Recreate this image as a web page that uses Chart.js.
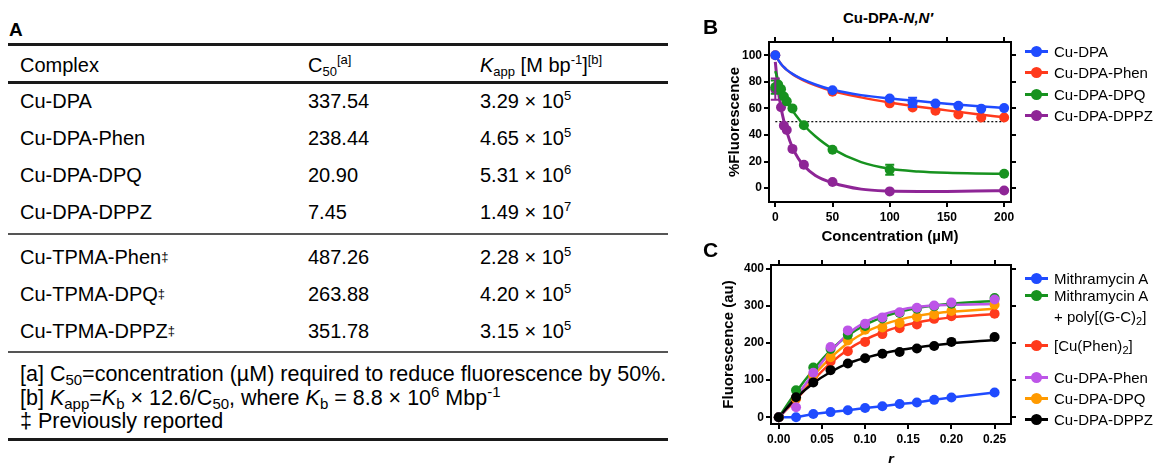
<!DOCTYPE html>
<html>
<head>
<meta charset="utf-8">
<script src="https://cdn.jsdelivr.net/npm/chart.js@4.4.1/dist/chart.umd.min.js"></script>
<style>
    body { margin: 0; width: 1155px; height: 463px; overflow: hidden; background: #fff; position: relative;
           font-family: "Liberation Sans", Arial, sans-serif; color: #000; }
    .abs { position: absolute; white-space: nowrap; }
    .panel { position: absolute; font-weight: bold; font-size: 21px; line-height: 24px; z-index: 5; }
    .cell { position: absolute; font-size: 20px; line-height: 24px; white-space: nowrap; }
    .cell sub, .cell sup { font-size: 13px; line-height: 0; }
    .cell sup { vertical-align: 8px; }
    .cell sub { vertical-align: -4px; }
    .cell.note { font-size: 21.5px; }
    .cell.note sub, .cell.note sup { font-size: 15px; }
    .dag { font-size: 13px; vertical-align: 3px; }
    .rule { position: absolute; left: 8px; width: 660px; background: #1a1a1a; }
    .lg { position: absolute; left: 1025px; font-size: 15px; line-height: 21px; white-space: nowrap; z-index: 5; }
    .lg .ln { position: absolute; left: 0; top: 9px; width: 23px; height: 3px; }
    .lg .dot { position: absolute; left: 6px; top: 5px; width: 11px; height: 11px; border-radius: 50%; }
    .lg .tx { position: absolute; left: 29px; top: 0; }
    .lg sub { font-size: 11px; line-height: 0; vertical-align: -3px; }
    canvas { position: absolute; }
</style>
</head>
<body>
<div id="tableA"></div>
<div class="panel" style="left:703px; top:15px;">B</div>
<div class="abs" style="left:843px; top:9px; font-size:15px; font-weight:bold; line-height:18px;">Cu-DPA-<i>N,N′</i></div>
<canvas id="chartB" width="455" height="246" style="left:700px; top:0px;"></canvas>
<div id="legendB"></div>
<div class="panel" style="left:703px; top:238px;">C</div>
<canvas id="chartC" width="455" height="222" style="left:700px; top:247px;"></canvas>
<div id="legendC"></div>

<script>
// ---- Panel A: table values ----
const complexes = ['Cu-DPA', 'Cu-DPA-Phen', 'Cu-DPA-DPQ', 'Cu-DPA-DPPZ', 'Cu-TPMA-Phen', 'Cu-TPMA-DPQ', 'Cu-TPMA-DPPZ'];
const previouslyReported = [false, false, false, false, true, true, true];
const c50Values = ['337.54', '238.44', '20.90', '7.45', '487.26', '263.88', '351.78'];
const kappMantissa = ['3.29', '4.65', '5.31', '1.49', '2.28', '4.20', '3.15'];
const kappExponent = [5, 5, 6, 7, 5, 5, 5];

// ---- Panel B: %Fluorescence vs concentration (uM) ----
const bNames = ['Cu-DPA', 'Cu-DPA-Phen', 'Cu-DPA-DPQ', 'Cu-DPA-DPPZ'];
const bColors = ['#1f4bff', '#ff3a1c', '#17921f', '#8e2596'];
const bConcDPA = [0, 50, 100, 120, 140, 160, 180, 200];
const bCuDPA = [100, 73.7, 67.5, 64.5, 63.7, 62, 59.8, 60.2];
const bCuDPAErr = [0, 0, 0, 3.5, 0, 0, 0, 0];
const bCuDPAPhen = [100, 72.5, 63.8, 60.7, 58.2, 55.4, 53.2, 53.2];
const bConcLig = [0, 2.5, 5, 7.5, 10, 15, 25, 50, 100, 200];
const bCuDPADPQ = [76, 78, 74.5, 69, 65.3, 60, 47.3, 28.8, 13.8, 10.8];
const bCuDPADPQErr = [5, 0, 0, 0, 0, 0, 0, 0, 3.8, 0];
const bCuDPADPPZ = [74.5, null, 60.8, 47, 43.7, 29.5, 17.5, 4.5, -2.5, -1.8];
const bCuDPADPPZErr = [8, 0, 0, 0, 0, 0, 0, 0, 0, 0];
// fitted curves
const bFitX = [0, 2.5, 5, 7.5, 10, 15, 20, 25, 35, 50, 75, 100, 125, 150, 175, 200];
const bFitDPA = [100, 96.5, 93.5, 91, 89, 86, 83.5, 81.5, 78, 74, 70, 67.5, 65.5, 63.5, 61.8, 60.3];
const bFitPhen = [100, 96.5, 93.5, 91, 89, 85.8, 83.2, 81, 77.3, 73, 68.3, 64.5, 61.3, 58.5, 55.8, 53.3];
const bFitDPQ = [88, 81, 75.5, 70.5, 66, 58.5, 52.5, 47.3, 39, 29.5, 19.5, 14.5, 12.5, 11.5, 11, 10.8];
const bFitDPPZ = [95, 74, 60.5, 50.5, 42.5, 30.5, 22.5, 16.8, 9.5, 4, -0.8, -2.3, -2.6, -2.5, -2.3, -2];
const bHalfLine = 50;
const bTicksX = [0, 50, 100, 150, 200];
const bTicksY = [0, 20, 40, 60, 80, 100];

// ---- Panel C: fluorescence (au) vs r ----
const cNames = ['Mithramycin A', 'Mithramycin A<br>+ poly[(G-C)<sub>2</sub>]', '[Cu(Phen)<sub>2</sub>]', 'Cu-DPA-Phen', 'Cu-DPA-DPQ', 'Cu-DPA-DPPZ'];
const cColors = ['#1f4bff', '#17921f', '#ff3a1c', '#bd55e8', '#ff9a00', '#000000'];
const cRatio = [0, 0.02, 0.04, 0.06, 0.08, 0.10, 0.12, 0.14, 0.16, 0.18, 0.20, 0.25];
const cMith = [0, 0, 9, 14, 19, 25, 30, 36, 40, 47, 53.5, 67];
const cMithPoly = [0, 73, 134, 184, 222, 246, 266, 281, 292, 299, 306, 321];
const cCuPhen2 = [0, 50, 111, 150, 178, 203, 224, 240, 250, 265, 272, 279];
const cDPAPhen = [0, 27, 120, 189, 234, 252, 269, 283, 295, 301, 309, 317];
const cDPADPQ = [0, 51, 114, 162, 207, 236, 242, 254, 270, 277, 286, 303];
const cDPADPPZ = [0, 54, 94, 127, 145, 159, 171, 176, 185, 192, 203, 216];
const cFitMithPoly = [0, 68, 128, 180, 220, 249, 269, 284, 294, 301, 306, 313];
const cFitCuPhen2 = [0, 47, 100, 146, 182, 209, 229, 244, 255, 263, 269, 278];
const cFitDPAPhen = [-3, 55, 118, 176, 224, 256, 276, 289, 297, 301, 303, 305];
const cFitDPADPQ = [0, 55, 112, 160, 200, 229, 249, 263, 273, 280, 284, 292];
const cFitDPADPPZ = [0, 52, 92, 122, 145, 160, 172, 181, 188, 194, 199, 208];
const cTicksX = [0, 0.05, 0.10, 0.15, 0.20, 0.25];
const cTicksY = [0, 100, 200, 300, 400];

Chart.defaults.font.family = '"Liberation Sans", Arial, sans-serif';
Chart.defaults.color = '#000';

// ---- Table (panel A) ----
const tableA = document.getElementById('tableA');
function addCell(x, y, html, cls) {
    const el = document.createElement('div');
    el.className = 'cell' + (cls ? ' ' + cls : '');
    el.style.left = x + 'px';
    el.style.top = (y - 12) + 'px';
    el.innerHTML = html;
    tableA.appendChild(el);
}
function addRule(y, h, color) {
    const el = document.createElement('div');
    el.className = 'rule';
    el.style.top = y + 'px';
    el.style.height = h + 'px';
    if (color) el.style.background = color;
    tableA.appendChild(el);
}
const titleA = document.createElement('div');
titleA.className = 'panel';
titleA.style.left = '9px';
titleA.style.top = '18px';
titleA.style.fontSize = '19px';
titleA.textContent = 'A';
tableA.appendChild(titleA);

addRule(43, 3);
addCell(20, 65, 'Complex');
addCell(308, 65, 'C<sub>50</sub><sup>[a]</sup>');
addCell(480, 65, '<i>K</i><sub>app</sub> [M bp<sup>-1</sup>]<sup>[b]</sup>');
addRule(81, 3);
const rowY = [101, 138, 175, 212, 257, 294, 331];
complexes.forEach((name, i) => {
    addCell(20, rowY[i], name + (previouslyReported[i] ? '<span class="dag">‡</span>' : ''));
    addCell(308, rowY[i], c50Values[i]);
    addCell(480, rowY[i], kappMantissa[i] + ' × 10<sup>' + kappExponent[i] + '</sup>');
});
addRule(233, 2, '#555');
addRule(351, 2, '#555');
addCell(20, 374, '[a] C<sub>50</sub>=concentration (µM) required to reduce fluorescence by 50%.', 'note');
addCell(20, 398, '[b] <i>K</i><sub>app</sub>=<i>K</i><sub>b</sub> × 12.6/C<sub>50</sub>, where <i>K</i><sub>b</sub> = 8.8 × 10<sup>6</sup> Mbp<sup>-1</sup>', 'note');
addCell(20, 421, '‡ Previously reported', 'note');
addRule(438, 3);

// ---- helpers for the boxed charts ----
function pts(xs, ys) {
    return xs.map((x, i) => ({ x: x, y: ys[i] }));
}

function boxScales(o) {
    const grid = { drawOnChartArea: false, drawTicks: true, tickLength: 5, color: '#000', lineWidth: 2 };
    const border = { display: true, color: '#000', width: 2 };
    const tickFont = { size: 12, weight: 'bold' };
    const setTicks = vals => scale => { scale.ticks = vals.map(v => ({ value: v })); };
    return {
        x: {
            type: 'linear', position: 'bottom', min: o.xMin, max: o.xMax,
            afterBuildTicks: setTicks(o.xTicks),
            afterFit: s => { s.height = o.xHeight; },
            ticks: { font: tickFont, padding: 3, maxRotation: 0, autoSkip: false, callback: o.xFormat },
            grid: grid, border: border,
            title: { display: true, text: o.xTitle, font: o.xTitleFont, padding: { top: 0, bottom: 0 } }
        },
        x2: {
            type: 'linear', position: 'top', min: o.xMin, max: o.xMax,
            afterBuildTicks: setTicks(o.xTicks),
            afterFit: s => { s.height = 5; },
            ticks: { display: false },
            grid: grid, border: border
        },
        y: {
            type: 'linear', position: 'left', min: o.yMin, max: o.yMax,
            afterBuildTicks: setTicks(o.yTicks),
            afterFit: s => { s.width = o.yWidth; },
            ticks: { font: tickFont, padding: 2, autoSkip: false },
            grid: grid, border: border,
            title: { display: true, text: o.yTitle, font: { size: 15, weight: 'bold' }, padding: { top: 0, bottom: 0 } }
        },
        y2: {
            type: 'linear', position: 'right', min: o.yMin, max: o.yMax,
            afterBuildTicks: setTicks(o.yTicks),
            afterFit: s => { s.width = 5; },
            ticks: { display: false },
            grid: grid, border: border
        }
    };
}

function pointSet(xs, ys, color, errs) {
    return {
        data: pts(xs, ys), errors: errs, showLine: false,
        pointRadius: 5, pointHoverRadius: 5, pointBackgroundColor: color, pointBorderWidth: 0,
        borderColor: color, backgroundColor: color, order: 1
    };
}
function fitSet(xs, ys, color, width) {
    return {
        data: pts(xs, ys), showLine: true, pointRadius: 0, borderColor: color, borderWidth: width || 2.5,
        cubicInterpolationMode: 'monotone', fill: false, order: 2
    };
}

// error bars drawn through the chart scales
const errorBars = {
    id: 'errorBars',
    afterDatasetsDraw(chart) {
        const ctx = chart.ctx;
        const xs = chart.scales.x, ys = chart.scales.y;
        chart.data.datasets.forEach(ds => {
            if (!ds.errors) return;
            ctx.save();
            ctx.strokeStyle = ds.borderColor;
            ctx.lineWidth = 2;
            ds.data.forEach((p, j) => {
                const e = ds.errors[j];
                if (!e || p.y == null) return;
                const px = xs.getPixelForValue(p.x);
                const top = ys.getPixelForValue(p.y + e);
                const bot = ys.getPixelForValue(p.y - e);
                ctx.beginPath();
                ctx.moveTo(px, top); ctx.lineTo(px, bot);
                ctx.moveTo(px - 4.5, top); ctx.lineTo(px + 4.5, top);
                ctx.moveTo(px - 4.5, bot); ctx.lineTo(px + 4.5, bot);
                ctx.stroke();
            });
            ctx.restore();
        });
    }
};

// ---- Panel B chart ----
const chartB = new Chart(document.getElementById('chartB'), {
    type: 'scatter',
    data: {
        datasets: [
            pointSet(bConcDPA, bCuDPA, bColors[0], bCuDPAErr),
            pointSet(bConcDPA, bCuDPAPhen, bColors[1]),
            pointSet(bConcLig, bCuDPADPQ, bColors[2], bCuDPADPQErr),
            pointSet(bConcLig, bCuDPADPPZ, bColors[3], bCuDPADPPZErr),
            fitSet(bFitX, bFitDPA, bColors[0]),
            fitSet(bFitX, bFitPhen, bColors[1]),
            fitSet(bFitX, bFitDPQ, bColors[2]),
            fitSet(bFitX, bFitDPPZ, bColors[3], 3),
            {
                data: pts([0, 200], [bHalfLine, bHalfLine]), showLine: true, pointRadius: 0,
                borderColor: '#000', borderWidth: 1.2, borderDash: [2, 2], order: 3
            }
        ]
    },
    options: {
        responsive: false,
        animation: false,
        layout: { padding: { left: 26, top: 37, right: 139, bottom: 0 } },
        plugins: { legend: { display: false }, tooltip: { enabled: false } },
        scales: boxScales({
            xMin: -5.5, xMax: 206, xTicks: bTicksX, xHeight: 44,
            xTitle: 'Concentration (µM)', xTitleFont: { size: 15, weight: 'bold' },
            yMin: -10.5, yMax: 110, yTicks: bTicksY, yWidth: 43, yTitle: '%Fluorescence'
        })
    },
    plugins: [errorBars]
});

// ---- Panel C chart ----
const chartC = new Chart(document.getElementById('chartC'), {
    type: 'scatter',
    data: {
        datasets: [
            pointSet(cRatio, cDPADPPZ, cColors[5]),
            pointSet(cRatio, cDPAPhen, cColors[3]),
            pointSet(cRatio, cMithPoly, cColors[1]),
            pointSet(cRatio, cDPADPQ, cColors[4]),
            pointSet(cRatio, cCuPhen2, cColors[2]),
            Object.assign(pointSet(cRatio, cMith, cColors[0]), { showLine: true, borderWidth: 2.5, tension: 0 }),
            fitSet(cRatio, cFitDPADPPZ, cColors[5]),
            fitSet(cRatio, cFitDPAPhen, cColors[3]),
            fitSet(cRatio, cFitMithPoly, cColors[1]),
            fitSet(cRatio, cFitDPADPQ, cColors[4]),
            fitSet(cRatio, cFitCuPhen2, cColors[2])
        ]
    },
    options: {
        responsive: false,
        animation: false,
        layout: { padding: { left: 20, top: 13, right: 139, bottom: 0 } },
        plugins: { legend: { display: false }, tooltip: { enabled: false } },
        scales: boxScales({
            xMin: -0.009, xMax: 0.269, xTicks: cTicksX, xHeight: 45,
            xFormat: v => Number(v).toFixed(2),
            xTitle: 'r', xTitleFont: { size: 15, weight: 'bold', style: 'italic' },
            yMin: -18, yMax: 410, yTicks: cTicksY, yWidth: 51, yTitle: 'Fluorescence (au)'
        })
    }
});

// ---- HTML legends (line + marker) ----
function buildLegend(id, names, colors, rows) {
    const box = document.getElementById(id);
    names.forEach((name, i) => {
        const el = document.createElement('div');
        el.className = 'lg';
        el.style.top = (rows[i] - 10.5) + 'px';
        el.innerHTML = '<span class="ln" style="background:' + colors[i] + '"></span>' +
            '<span class="dot" style="background:' + colors[i] + '"></span>' +
            '<span class="tx">' + name + '</span>';
        box.appendChild(el);
    });
}
buildLegend('legendB', bNames, bColors, [51, 72.5, 94, 115.5]);
buildLegend('legendC', cNames, cColors, [278, 295, 345, 377, 398, 419]);
</script>
</body>
</html>
